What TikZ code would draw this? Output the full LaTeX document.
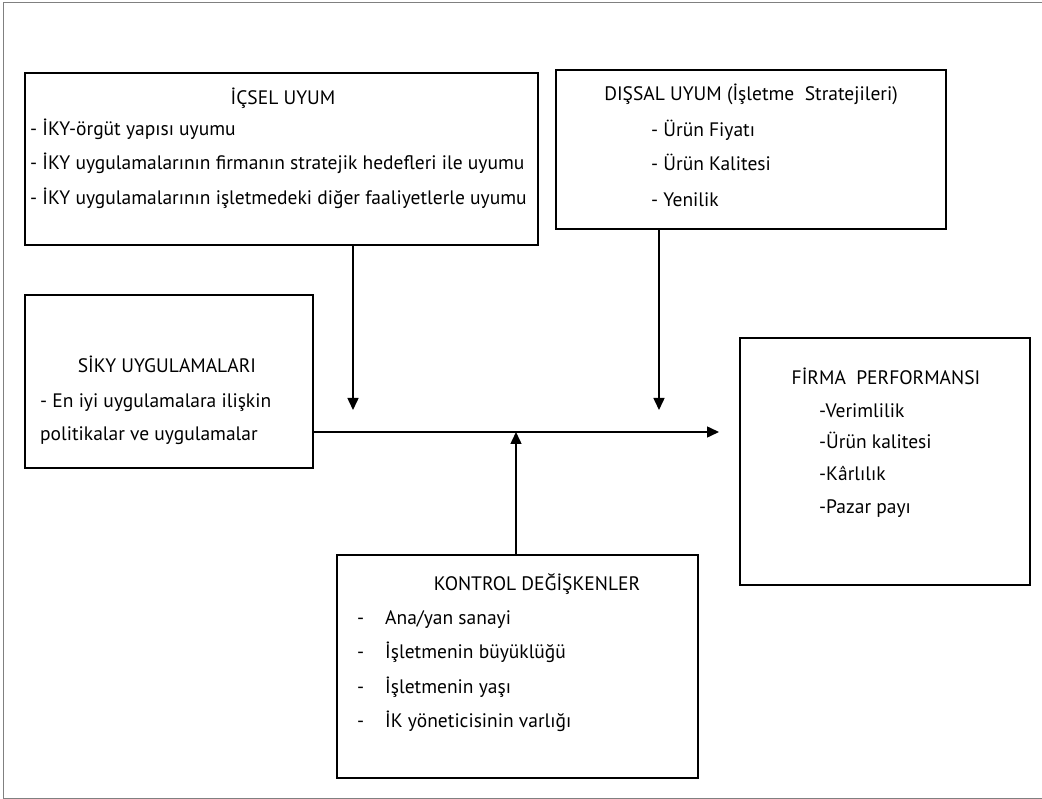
\documentclass[tikz,border=0pt]{standalone}
\usepackage{fontspec}
\setmainfont{PT Sans}
\usetikzlibrary{arrows.meta}
\tikzstyle{block} = [draw, rectangle, line width=1.3pt, inner sep=0pt]
\tikzstyle{title} = [inner sep=0pt, text height=18pt, text depth=3pt,
    font=\fontsize{19.5}{22}\selectfont]
\tikzstyle{item} = [title, anchor=west]
\tikzstyle{line} = [draw, line width=1.5pt]
\tikzstyle{arrow} = [line, -{Triangle[length=12pt,width=11pt]}]

\begin{document}
\begin{tikzpicture}[x=1pt, y=-1pt]
    \useasboundingbox (0,0) rectangle (1042,799);

    % Outer frame
    \draw [gray, line width=1pt] (3,3) rectangle (1060,798);

    % Internal fit
    \node [block, minimum width=513, minimum height=172] (icsel) at (281.5,159) {};
    \node [title] (icselT) at (283,97) {İÇSEL UYUM};
    \node [item] (icsel1) at (30,128) {- İKY-örgüt yapısı uyumu};
    \node [item] (icsel2) at (30,162) {- İKY uygulamalarının firmanın stratejik hedefleri ile uyumu};
    \node [item] (icsel3) at (30,197) {- İKY uygulamalarının işletmedeki diğer faaliyetlerle uyumu};

    % External fit
    \node [block, minimum width=390, minimum height=159] (dissal) at (751,149.5) {};
    \node [title] (dissalT) at (751,93) {DIŞSAL UYUM (İşletme\ \ Stratejileri)};
    \node [item] (dissal1) at (651,129) {- Ürün Fiyatı};
    \node [item] (dissal2) at (651,163) {- Ürün Kalitesi};
    \node [item] (dissal3) at (651,199) {- Yenilik};

    % Practices
    \node [block, minimum width=288, minimum height=173] (siky) at (169,381.5) {};
    \node [title] (sikyT) at (167,365) {SİKY UYGULAMALARI};
    \node [item] (siky1) at (40,400) {- En iyi uygulamalara ilişkin};
    \node [item] (siky2) at (40,433) {politikalar ve uygulamalar};

    % Performance
    \node [block, minimum width=290, minimum height=247] (firma) at (885,461.5) {};
    \node [title] (firmaT) at (886,377) {FİRMA\ \ PERFORMANSI};
    \node [item] (firma1) at (819,410) {-Verimlilik};
    \node [item] (firma2) at (819,441) {-Ürün kalitesi};
    \node [item] (firma3) at (819,473) {-Kârlılık};
    \node [item] (firma4) at (819,506) {-Pazar payı};

    % Control variables
    \node [block, minimum width=361, minimum height=223] (kontrol) at (517.5,666.5) {};
    \node [title] (kontrolT) at (537,583) {KONTROL DEĞİŞKENLER};
    \foreach \y/\t [count=\i] in {617/{Ana/yan sanayi}, 651/{İşletmenin büyüklüğü},
                                  686/{İşletmenin yaşı}, 720/{İK yöneticisinin varlığı}} {
        \node [item] (kontrolD\i) at (357,\y) {-};
        \node [item] (kontrol\i) at (385,\y) {\t};
    }

    % Arrow ends
    \coordinate (tip) at (719,432);
    \coordinate (m1) at (353,410);
    \coordinate (m2) at (659,410);
    \coordinate (m3) at (516,432);

    \draw [arrow] (siky.east |- tip) -- (tip);
    \draw [arrow] (icsel.south -| m1) -- (m1);
    \draw [arrow] (dissal.south -| m2) -- (m2);
    \draw [arrow] (kontrol.north -| m3) -- (m3);
\end{tikzpicture}
\end{document}
